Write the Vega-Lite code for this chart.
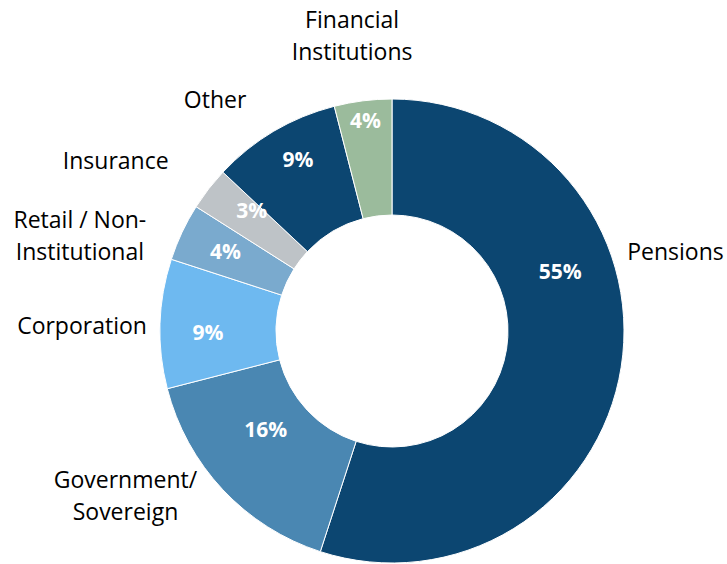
{
  "$schema": "https://vega.github.io/schema/vega-lite/v6.json",
  "autosize": "none",
  "width": 670,
  "height": 466,
  "padding": {"left": 57, "top": 98, "right": 0, "bottom": 0},
  "background": "white",
  "view": {"stroke": null},
  "data": {
    "values": [
      {"order": 1, "category": "Pensions", "name": "Pensions", "value": 55, "pct": "55%"},
      {"order": 2, "category": "Government/Sovereign", "name": "Government/\nSovereign", "value": 16, "pct": "16%"},
      {"order": 3, "category": "Corporation", "name": "Corporation", "value": 9, "pct": "9%"},
      {"order": 4, "category": "Retail / Non-Institutional", "name": "Retail / Non-\nInstitutional", "value": 4, "pct": "4%"},
      {"order": 5, "category": "Insurance", "name": "Insurance", "value": 3, "pct": "3%"},
      {"order": 6, "category": "Other", "name": "Other", "value": 9, "pct": "9%"},
      {"order": 7, "category": "Financial Institutions", "name": "Financial\nInstitutions", "value": 4, "pct": "4%"}
    ]
  },
  "encoding": {
    "theta": {"field": "value", "type": "quantitative", "stack": true},
    "order": {"field": "order", "type": "quantitative"},
    "detail": {"field": "category", "type": "nominal"}
  },
  "layer": [
    {
      "mark": {"type": "arc", "outerRadius": 232, "innerRadius": 116, "stroke": "white", "strokeWidth": 1},
      "encoding": {
        "color": {
          "field": "category", "type": "nominal", "legend": null,
          "scale": {
            "domain": ["Pensions", "Government/Sovereign", "Corporation", "Retail / Non-Institutional", "Insurance", "Other", "Financial Institutions"],
            "range": ["#0C4671", "#4A87B2", "#6EB9F0", "#7AAACE", "#BEC3C7", "#0C4671", "#9BBB9C"]
          }
        }
      }
    },
    {"mark": {"type": "text", "radius": 294, "thetaOffset": -0.426, "font": "Open Sans", "fontSize": 23, "color": "#000000", "lineBreak": "\n", "lineHeight": 32, "align": "center", "baseline": "middle"},
     "encoding": {"text": {"condition": {"test": "datum.order === 1", "field": "name"}, "value": ""}}},
    {"mark": {"type": "text", "radius": 314, "thetaOffset": 0.197, "dy": -16, "font": "Open Sans", "fontSize": 23, "color": "#000000", "lineBreak": "\n", "lineHeight": 32, "align": "center", "baseline": "middle"},
     "encoding": {"text": {"condition": {"test": "datum.order === 2", "field": "name"}, "value": ""}}},
    {"mark": {"type": "text", "radius": 310, "thetaOffset": -0.019, "font": "Open Sans", "fontSize": 23, "color": "#000000", "lineBreak": "\n", "lineHeight": 32, "align": "center", "baseline": "middle"},
     "encoding": {"text": {"condition": {"test": "datum.order === 3", "field": "name"}, "value": ""}}},
    {"mark": {"type": "text", "radius": 326, "thetaOffset": -0.147, "dy": -16, "font": "Open Sans", "fontSize": 23, "color": "#000000", "lineBreak": "\n", "lineHeight": 32, "align": "center", "baseline": "middle"},
     "encoding": {"text": {"condition": {"test": "datum.order === 4", "field": "name"}, "value": ""}}},
    {"mark": {"type": "text", "radius": 324, "thetaOffset": -0.110, "font": "Open Sans", "fontSize": 23, "color": "#000000", "lineBreak": "\n", "lineHeight": 32, "align": "center", "baseline": "middle"},
     "encoding": {"text": {"condition": {"test": "datum.order === 5", "field": "name"}, "value": ""}}},
    {"mark": {"type": "text", "radius": 290, "thetaOffset": -0.122, "font": "Open Sans", "fontSize": 23, "color": "#000000", "lineBreak": "\n", "lineHeight": 32, "align": "center", "baseline": "middle"},
     "encoding": {"text": {"condition": {"test": "datum.order === 6", "field": "name"}, "value": ""}}},
    {"mark": {"type": "text", "radius": 297, "thetaOffset": -0.009, "dy": -16, "font": "Open Sans", "fontSize": 23, "color": "#000000", "lineBreak": "\n", "lineHeight": 32, "align": "center", "baseline": "middle"},
     "encoding": {"text": {"condition": {"test": "datum.order === 7", "field": "name"}, "value": ""}}},
    {"mark": {"type": "text", "radius": 178, "thetaOffset": -0.489, "font": "Open Sans", "fontSize": 21, "fontWeight": "bold", "color": "white", "align": "center", "baseline": "middle"},
     "encoding": {"text": {"condition": {"test": "datum.order === 1", "field": "pct"}, "value": ""}}},
    {"mark": {"type": "text", "radius": 161, "thetaOffset": 0.084, "font": "Open Sans", "fontSize": 21, "fontWeight": "bold", "color": "white", "align": "center", "baseline": "middle"},
     "encoding": {"text": {"condition": {"test": "datum.order === 2", "field": "pct"}, "value": ""}}},
    {"mark": {"type": "text", "radius": 184, "thetaOffset": -0.049, "font": "Open Sans", "fontSize": 21, "fontWeight": "bold", "color": "white", "align": "center", "baseline": "middle"},
     "encoding": {"text": {"condition": {"test": "datum.order === 3", "field": "pct"}, "value": ""}}},
    {"mark": {"type": "text", "radius": 184, "thetaOffset": 0, "font": "Open Sans", "fontSize": 21, "fontWeight": "bold", "color": "white", "align": "center", "baseline": "middle"},
     "encoding": {"text": {"condition": {"test": "datum.order === 4", "field": "pct"}, "value": ""}}},
    {"mark": {"type": "text", "radius": 184, "thetaOffset": 0.045, "font": "Open Sans", "fontSize": 21, "fontWeight": "bold", "color": "white", "align": "center", "baseline": "middle"},
     "encoding": {"text": {"condition": {"test": "datum.order === 5", "field": "pct"}, "value": ""}}},
    {"mark": {"type": "text", "radius": 194, "thetaOffset": 0.028, "font": "Open Sans", "fontSize": 21, "fontWeight": "bold", "color": "white", "align": "center", "baseline": "middle"},
     "encoding": {"text": {"condition": {"test": "datum.order === 6", "field": "pct"}, "value": ""}}},
    {"mark": {"type": "text", "radius": 211, "thetaOffset": 0, "font": "Open Sans", "fontSize": 21, "fontWeight": "bold", "color": "white", "align": "center", "baseline": "middle"},
     "encoding": {"text": {"condition": {"test": "datum.order === 7", "field": "pct"}, "value": ""}}}
  ]
}
